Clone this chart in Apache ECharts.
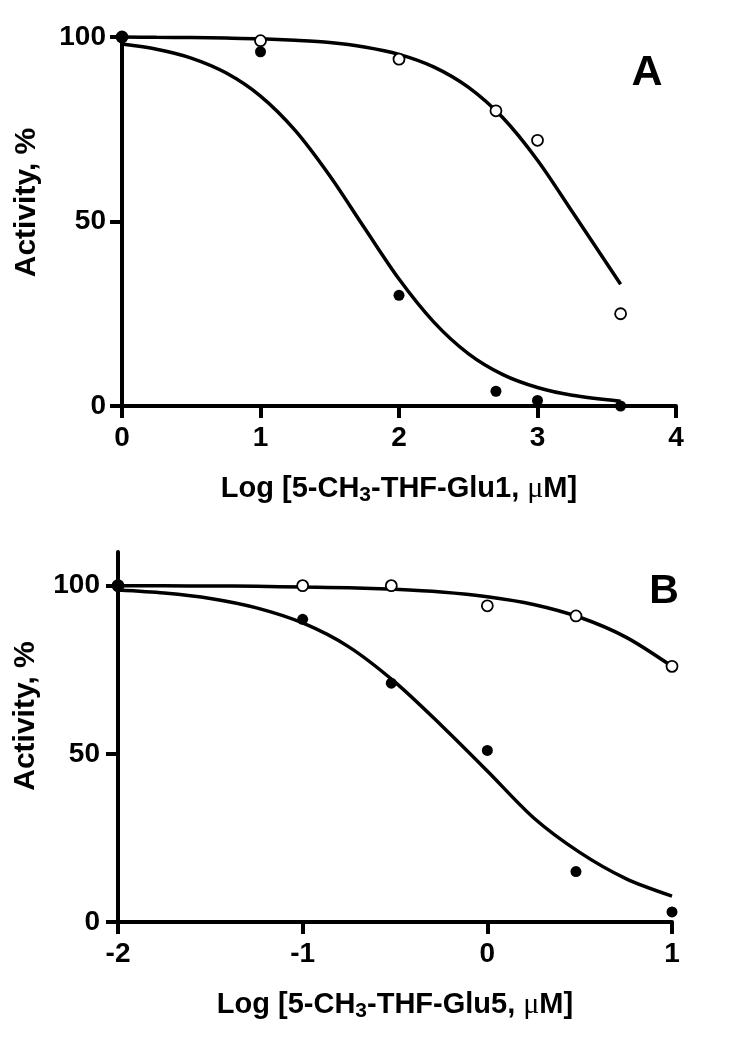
<!DOCTYPE html>
<html>
<head>
<meta charset="utf-8">
<script src="https://cdn.jsdelivr.net/npm/echarts@6/dist/echarts.min.js"></script>
<style>html,body{margin:0;padding:0;background:#fff;}#c{width:750px;height:1049px;}</style>
</head>
<body>
<div id="c"></div>
<script>
// ---- Panel A data (Log [5-CH3-THF-Glu1, µM]) ----
const xA = [0, 1, 2, 2.7, 3, 3.6];
const filledA = [100, 96, 30, 4, 1.5, 0];
const openA = [100, 99, 94, 80, 72, 25];
const fitXA = [0, 0.25, 0.5, 0.75, 1, 1.25, 1.5, 1.75, 2, 2.25, 2.5, 2.75, 3, 3.25, 3.6];
const fitFilledA = [98.1, 96.7, 94.3, 90.3, 84.0, 74.7, 62.4, 48.3, 34.4, 22.8, 14.2, 8.5, 5.0, 2.9, 1.3];
const fitOpenA = [100, 99.9, 99.85, 99.7, 99.5, 99.1, 98.5, 97.3, 95.3, 91.9, 86.4, 78.1, 66.6, 52.7, 33.0];
const xTicksA = [0, 1, 2, 3, 4];
const yTicksA = [0, 50, 100];

// ---- Panel B data (Log [5-CH3-THF-Glu5, µM]) ----
const xB = [-2, -1, -0.52, 0, 0.48, 1];
const filledB = [100, 90, 71, 51, 15, 3];
const openB = [100, 100, 100, 94, 91, 76];
const fitXB = [-2, -1.75, -1.5, -1.25, -1, -0.75, -0.5, -0.25, 0, 0.25, 0.5, 0.75, 1];
const fitFilledB = [98.7, 97.8, 96.2, 93.4, 88.9, 81.8, 71.3, 58.5, 44.9, 31.0, 20.7, 12.9, 7.7];
const fitOpenB = [100, 99.95, 99.9, 99.8, 99.6, 99.4, 98.9, 98.1, 96.7, 94.4, 90.6, 84.7, 76.0];
const xTicksB = [-2, -1, 0, 1];
const yTicksB = [0, 50, 100];

const zip = (xs, ys) => xs.map((x, i) => [x, ys[i]]);
const FF = 'Liberation Sans, Arial, Helvetica, sans-serif';

function xAxisFor(gridIndex, min, max, ticks, glu) {
  return {
    type: 'value', gridIndex, min, max, interval: 1,
    axisLine: { show: true, onZero: false, lineStyle: { color: '#000', width: 4 } },
    axisTick: { show: true, length: 12, lineStyle: { color: '#000', width: 4 }, customValues: ticks },
    axisLabel: { color: '#000', fontSize: 28, fontWeight: 'bold', fontFamily: FF, margin: 18, customValues: ticks },
    splitLine: { show: false },
    name: '{n|Log [5-CH}{s|3}{n|-THF-Glu' + glu + ', }{m|\u03bc}{n|M]}',
    nameLocation: 'middle', nameGap: 66,
    nameTextStyle: {
      color: '#000',
      rich: {
        n: { fontSize: 29, fontWeight: 'bold', fontFamily: FF, lineHeight: 34, color: '#000' },
        s: { fontSize: 21, fontWeight: 'bold', fontFamily: FF, lineHeight: 21, verticalAlign: 'bottom', color: '#000' },
        m: { fontSize: 30, fontWeight: 'normal', fontFamily: 'Liberation Serif, serif', lineHeight: 34, color: '#000' }
      }
    }
  };
}
function yAxisFor(gridIndex, max, ticks, margin, gap, pad) {
  return {
    type: 'value', gridIndex, min: 0, max, interval: 50,
    axisLine: { show: true, onZero: false, lineStyle: { color: '#000', width: 4 } },
    axisTick: { show: true, length: 12, lineStyle: { color: '#000', width: 4 }, customValues: ticks },
    axisLabel: { color: '#000', fontSize: 28, fontWeight: 'bold', fontFamily: FF, margin, customValues: ticks },
    splitLine: { show: false },
    name: 'Activity, %', nameLocation: 'middle', nameGap: gap,
    nameTextStyle: { color: '#000', fontSize: 30, fontWeight: 'bold', fontFamily: FF, padding: [0, 0, 0, pad] }
  };
}
function fitLine(idx, xs, ys) {
  return {
    type: 'line', xAxisIndex: idx, yAxisIndex: idx, data: zip(xs, ys),
    showSymbol: false, symbol: 'none', smooth: 0.3, clip: false,
    lineStyle: { color: '#000', width: 3.5, opacity: 1 }, z: 2, silent: true
  };
}
function pts(idx, xs, ys, open) {
  return {
    type: 'scatter', xAxisIndex: idx, yAxisIndex: idx, data: zip(xs, ys),
    symbol: 'circle', symbolSize: 11, clip: false,
    itemStyle: open ? { color: '#fff', borderColor: '#000', borderWidth: 1.8, opacity: 1 } : { color: '#000', opacity: 1 },
    z: open ? 3 : 4
  };
}

const chart = echarts.init(document.getElementById('c'), null, { renderer: 'canvas' });
chart.setOption({
  animation: false,
  backgroundColor: '#fff',
  grid: [
    { left: 122, top: 37, width: 554, height: 369, containLabel: false, outerBoundsMode: 'none' },
    { left: 118, top: 552, width: 554, height: 370, containLabel: false, outerBoundsMode: 'none' }
  ],
  xAxis: [xAxisFor(0, 0, 4, xTicksA, 1), xAxisFor(1, -2, 1, xTicksB, 5)],
  yAxis: [yAxisFor(0, 100, yTicksA, 16, 80, 38), yAxisFor(1, 110, yTicksB, 18, 77, 42)],
  graphic: [
    { type: 'text', x: 647, y: 73, style: { text: 'A', fontSize: 43, fontWeight: 'bold', fontFamily: FF, fill: '#000', align: 'center', verticalAlign: 'middle' } },
    { type: 'text', x: 664, y: 592, style: { text: 'B', fontSize: 41, fontWeight: 'bold', fontFamily: FF, fill: '#000', align: 'center', verticalAlign: 'middle' } }
  ],
  series: [
    fitLine(0, fitXA, fitFilledA),
    fitLine(0, fitXA, fitOpenA),
    pts(0, xA, openA, true),
    pts(0, xA, filledA, false),
    fitLine(1, fitXB, fitFilledB),
    fitLine(1, fitXB, fitOpenB),
    pts(1, xB, openB, true),
    pts(1, xB, filledB, false)
  ]
});
</script>
</body>
</html>
